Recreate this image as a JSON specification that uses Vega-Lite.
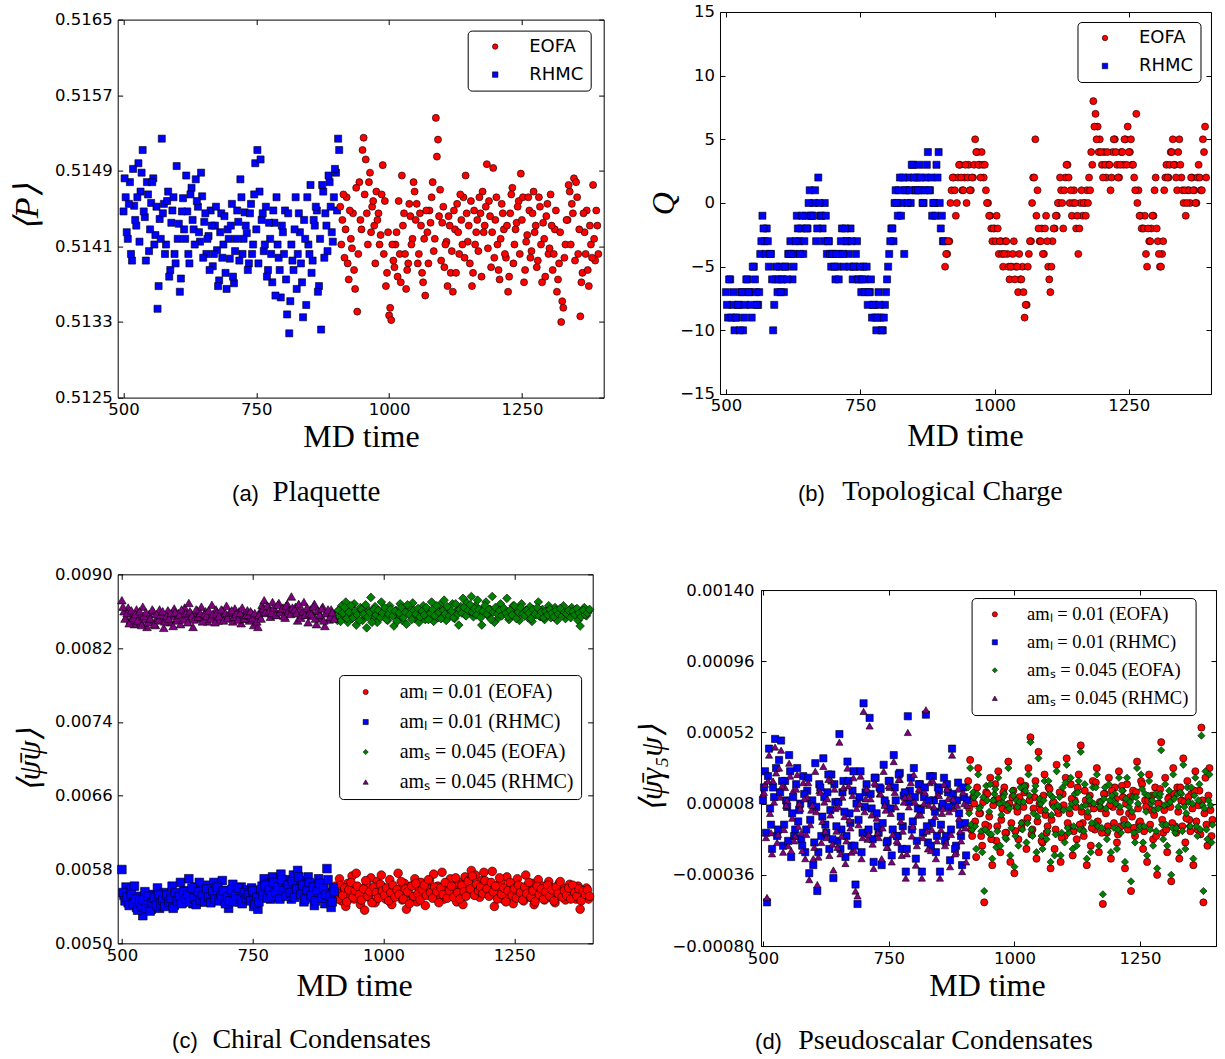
{
"$schema":"https://vega.github.io/schema/vega-lite/v6.json",
"background":"white",
"padding":{"left":6.7,"top":0.7,"right":2,"bottom":-16},
"config":{
 "view":{"stroke":"#000000","strokeWidth":1},
 "axis":{"grid":false,"domain":false,"labelFont":"DejaVu Sans","labelFontSize":16.5,"labelColor":"#000000","tickColor":"#000000","tickWidth":1,"labelFlush":false,"labelOverlap":false,"titleColor":"#000000","titleFontWeight":"normal"},
 "legend":{"orient":"none","direction":"vertical","labelColor":"#000000","symbolStrokeColor":"#000000","symbolStrokeWidth":0.6,"strokeColor":"#000000","fillColor":"#ffffff","cornerRadius":4,"labelLimit":400,"padding":7}
},
"spacing":41.6,
"resolve":{"scale":{"color":"independent","shape":"independent"},"legend":{"color":"independent","shape":"independent"}},
"vconcat":[
{"hconcat":[
{
"width":486,"height":378,
"data":{"values":[
{"s":"RHMC","t":[500,504,508,512,516,520,524,528,532,536,540,544,548,552,556,560,564,568,572,576,580,584,588,592,596,600,604,608,612,616,620,624,628,632,636,640,644,648,652,656,660,664,668,672,676,680,684,688,692,696,700,704,708,712,716,720,724,728,732,736,740,744,748,752,756,760,764,768,772,776,780,784,788,792,796,800,804,808,812,816,820,824,828,832,836,840,844,848,852,856,860,864,868,872,876,880,884,888,892,896,900,904],
"v":[0.51447,0.51462,0.51418,0.51478,0.51395,0.51453,0.51432,0.51498,0.51468,0.51512,0.51441,0.51478,0.51405,0.51456,0.51482,0.51422,0.51344,0.51439,0.51524,0.51455,0.51412,0.51468,0.51385,0.51448,0.51402,0.51495,0.51434,0.51376,0.51461,0.51418,0.51447,0.51392,0.51472,0.51428,0.51481,0.51452,0.51415,0.51463,0.51436,0.51402,0.51421,0.51448,0.51389,0.51432,0.51406,0.51374,0.51445,0.51412,0.51382,0.51428,0.51397,0.51455,0.51371,0.51418,0.51436,0.51481,0.51402,0.51446,0.51424,0.51392,0.51455,0.51412,0.51498,0.51512,0.51468,0.51438,0.51405,0.51452,0.51385,0.51418,0.51372,0.51435,0.51462,0.51398,0.51356,0.51425,0.51448,0.51338,0.51318,0.51412,0.51385,0.51462,0.51402,0.51425,0.51372,0.51438,0.51348,0.51412,0.51475,0.51395,0.51432,0.51448,0.51368,0.51322,0.51468,0.51445,0.51405,0.51478,0.51425,0.51462,0.51488,0.51524]},
{"s":"RHMC","t":[502,506,510,514,518,522,526,530,534,538,542,546,550,554,558,562,566,570,574,578,582,586,590,594,598,602,606,610,614,618,622,626,630,634,638,642,646,650,654,658,662,666,670,674,678,682,686,690,694,698,702,706,710,714,718,722,726,730,734,738,742,746,750,754,758,762,766,770,774,778,782,786,790,794,798,802,806,810,814,818,822,826,830,834,838,842,846,850,854,858,862,866,870,874,878,882,886,890,894,898,902,906],
"v":[0.51482,0.51425,0.51455,0.51402,0.51492,0.51438,0.51462,0.51415,0.51488,0.51447,0.51395,0.51465,0.51428,0.51478,0.51412,0.51452,0.51368,0.51418,0.51445,0.51402,0.51458,0.51378,0.51435,0.51462,0.51392,0.51418,0.51362,0.51447,0.51428,0.51485,0.51402,0.51465,0.51438,0.51412,0.51458,0.51425,0.51488,0.51398,0.51445,0.51418,0.51385,0.51432,0.51402,0.51452,0.51368,0.51425,0.51398,0.51442,0.51365,0.51418,0.51432,0.51378,0.51405,0.51448,0.51395,0.51462,0.51418,0.51432,0.51385,0.51445,0.51402,0.51465,0.51428,0.51392,0.51502,0.51445,0.51412,0.51378,0.51435,0.51402,0.51448,0.51358,0.51412,0.51385,0.51432,0.51402,0.51375,0.51445,0.51352,0.51395,0.51428,0.51365,0.51445,0.51392,0.51335,0.51418,0.51462,0.51402,0.51382,0.51438,0.51452,0.51362,0.51418,0.51475,0.51398,0.51432,0.51485,0.51452,0.51415,0.51492,0.51448,0.51512]},
{"s":"EOFA","t":[908,912,916,920,924,928,932,936,940,944,948,952,956,960,964,968,972,976,980,984,988,992,996,1000,1004,1008,1012,1016,1020,1024,1028,1032,1036,1040,1044,1048,1052,1056,1060,1064,1068,1072,1076,1080,1084,1088,1092,1096,1100,1104,1108,1112,1116,1120,1124,1128,1132,1136,1140,1144,1148,1152,1156,1160,1164,1168,1172,1176,1180,1184,1188,1192,1196,1200,1204,1208,1212,1216,1220,1224,1228,1232,1236,1240,1244,1248,1252,1256,1260,1264,1268,1272,1276,1280,1284,1288,1292,1296,1300,1304,1308,1312,1316,1320,1324,1328,1332,1336,1340,1344,1348,1352,1356,1360,1364,1368,1372,1376,1380,1384,1388,1392],
"v":[0.51452,0.51438,0.51398,0.51462,0.51375,0.51418,0.51445,0.51365,0.51341,0.51478,0.51428,0.51525,0.51502,0.51412,0.51488,0.51452,0.51432,0.51468,0.51445,0.51422,0.51496,0.51458,0.51382,0.51337,0.51332,0.51395,0.51412,0.51378,0.51402,0.51485,0.51445,0.51365,0.51392,0.51442,0.51418,0.51468,0.51455,0.51402,0.51432,0.51372,0.51358,0.51425,0.51448,0.51462,0.51405,0.51546,0.51523,0.5147,0.51435,0.51388,0.51415,0.51442,0.51382,0.51362,0.51428,0.51455,0.51402,0.51438,0.51462,0.51485,0.51415,0.51392,0.51368,0.51448,0.51425,0.51405,0.51445,0.51468,0.51432,0.51497,0.51458,0.51388,0.51493,0.51438,0.51412,0.51375,0.51455,0.51428,0.51398,0.51362,0.51445,0.51472,0.51412,0.51435,0.51458,0.51487,0.51462,0.51385,0.51422,0.51448,0.51405,0.51468,0.51432,0.51395,0.51452,0.51372,0.51418,0.51442,0.51402,0.51465,0.51385,0.51428,0.51362,0.51392,0.5133,0.51345,0.51412,0.51438,0.51468,0.51455,0.51482,0.51478,0.51402,0.51336,0.51382,0.51425,0.51448,0.51368,0.51412,0.51475,0.51395,0.51432]},
{"s":"EOFA","t":[910,914,918,922,926,930,934,938,942,946,950,954,958,962,966,970,974,978,982,986,990,994,998,1002,1006,1010,1014,1018,1022,1026,1030,1034,1038,1042,1046,1050,1054,1058,1062,1066,1070,1074,1078,1082,1086,1090,1094,1098,1102,1106,1110,1114,1118,1122,1126,1130,1134,1138,1142,1146,1150,1154,1158,1162,1166,1170,1174,1178,1182,1186,1190,1194,1198,1202,1206,1210,1214,1218,1222,1226,1230,1234,1238,1242,1246,1250,1254,1258,1262,1266,1270,1274,1278,1282,1286,1290,1294,1298,1302,1306,1310,1314,1318,1322,1326,1330,1334,1338,1342,1346,1350,1354,1358,1362,1366,1370,1374,1378,1382,1386,1390,1394],
"v":[0.51412,0.51465,0.51428,0.51392,0.51448,0.51408,0.51385,0.51472,0.51402,0.51438,0.51512,0.51465,0.51445,0.51478,0.51425,0.51458,0.51392,0.51438,0.51412,0.51465,0.51402,0.51368,0.51425,0.51345,0.51412,0.51388,0.51425,0.51458,0.51372,0.51432,0.51402,0.51385,0.51455,0.51412,0.51478,0.51438,0.51392,0.51445,0.51382,0.51418,0.51448,0.51392,0.51435,0.51478,0.51418,0.51505,0.51442,0.51395,0.51452,0.51412,0.51368,0.51432,0.51405,0.51448,0.51382,0.51425,0.51465,0.51412,0.51398,0.51445,0.51432,0.51458,0.51382,0.51412,0.51438,0.51462,0.51378,0.51425,0.51452,0.51408,0.51442,0.51425,0.51398,0.51462,0.51385,0.51418,0.51445,0.51402,0.51432,0.51378,0.51465,0.51392,0.51428,0.51452,0.51402,0.51438,0.51372,0.51415,0.51462,0.51398,0.51445,0.51425,0.51388,0.51462,0.51412,0.51435,0.51378,0.51455,0.51408,0.51432,0.51402,0.51448,0.51375,0.51425,0.51352,0.51398,0.51438,0.51475,0.51412,0.51445,0.51395,0.51462,0.51428,0.51372,0.51445,0.51402,0.51385,0.51432,0.51398,0.51418,0.51448,0.51402]}
]},
"transform":[{"flatten":["t","v"]}],
"layer":[
{"mark":{"type":"point","filled":true,"size":50,"stroke":"#000000","strokeWidth":0.6,"opacity":1},
 "encoding":{
  "x":{"field":"t","type":"quantitative","scale":{"domain":[489,1404],"nice":false,"zero":false},"axis":{"orient":"bottom","values":[500,750,1000,1250],"format":"d","ticks":false,"labelPadding":4,"title":"MD time","titleFont":"Liberation Serif","titleFontSize":32,"titleX":243.3,"titleY":49,"titleAlign":"center","titleBaseline":"alphabetic","titleAngle":0}},
  "y":{"field":"v","type":"quantitative","scale":{"domain":[0.5125,0.5165],"nice":false,"zero":false},"axis":{"orient":"left","values":[0.5125,0.5133,0.5141,0.5149,0.5157,0.5165],"format":".4f","ticks":false,"labelPadding":5.5,"minExtent":110,"maxExtent":110,"title":"\u27e8P\u27e9","titleFont":"Liberation Serif","titleFontSize":34,"titleFontStyle":"italic","titleX":-90.7,"titleY":187.7,"titleAngle":270,"titleAlign":"center","titleBaseline":"middle"}},
  "color":{"field":"s","type":"nominal","scale":{"domain":["EOFA","RHMC"],"range":["#ff0000","#0000ff"]},"legend":{"title":null,"legendX":350,"legendY":11,"labelFont":"DejaVu Sans","labelFontSize":18,"symbolSize":30,"symbolOffset":11.5,"labelOffset":25,"rowPadding":10}},
  "shape":{"field":"s","type":"nominal","scale":{"domain":["EOFA","RHMC"],"range":["circle","square"]}}
 }},
{"transform":[{"filter":"datum.t == 500"}],"mark":{"type":"point","opacity":0},
 "encoding":{
  "x":{"field":"t","type":"quantitative","scale":{"domain":[489,1404],"nice":false,"zero":false},"axis":{"orient":"top","values":[500,750,1000,1250],"labels":false,"tickSize":-5,"title":null,"minExtent":10,"maxExtent":10}},
  "y":{"field":"v","type":"quantitative","scale":{"domain":[0.5125,0.5165],"nice":false,"zero":false},"axis":{"orient":"right","values":[0.5125,0.5133,0.5141,0.5149,0.5157,0.5165],"labels":false,"tickSize":-5,"minExtent":0,"maxExtent":0,"title":"(a)","titleFont":"Liberation Sans","titleFontSize":22,"titleAngle":0,"titleX":-358.7,"titleY":480.7,"titleAlign":"center","titleBaseline":"alphabetic"}}
 }},
{"transform":[{"filter":"datum.t == 500"}],"mark":{"type":"point","opacity":0},
 "encoding":{
  "x":{"field":"t","type":"quantitative","scale":{"domain":[489,1404],"nice":false,"zero":false},"axis":{"orient":"bottom","values":[500,750,1000,1250],"labels":false,"tickSize":-5,"minExtent":115.7,"maxExtent":115.7,"title":"Plaquette","titleFont":"Liberation Serif","titleFontSize":29,"titleAngle":0,"titleX":208.3,"titleY":102.7,"titleAlign":"center","titleBaseline":"alphabetic"}},
  "y":{"field":"v","type":"quantitative","scale":{"domain":[0.5125,0.5165],"nice":false,"zero":false},"axis":{"orient":"left","values":[0.5125,0.5133,0.5141,0.5149,0.5157,0.5165],"labels":false,"tickSize":-5,"title":null,"minExtent":0,"maxExtent":0}}
 }}
],
"resolve":{"axis":{"x":"independent","y":"independent"}}
},
{
"width":491,"height":382,
"data":{"values":[
{"s":"RHMC","t":[500,504,508,512,516,520,524,528,532,536,540,544,548,552,556,560,564,568,572,576,580,584,588,592,596,600,604,608,612,616,620,624,628,632,636,640,644,648,652,656,660,664,668,672,676,680,684,688,692,696,700,704,708,712,716,720,724,728,732,736,740,744,748,752,756,760,764,768,772,776,780,784,788,792,796,800,804,808,812,816,820,824,828,832,836,840,844,848,852,856,860,864,868,872,876,880,884,888,892,896,900,904],
"v":[-7,-9,-6,-8,-10,-9,-8,-7,-10,-8,-6,-7,-9,-5,-7,-8,-4,-1,-3,-2,-5,-4,-10,-6,-7,-5,-6,-7,-5,-4,-3,-6,-4,-1,-3,-2,-4,-1,-2,1,-1,0,-3,2,-1,-2,0,-4,-3,-5,-4,-6,-5,-4,-2,-5,-3,-4,-2,-6,-5,-3,-6,-7,-5,-6,-8,-7,-9,-8,-10,-7,-9,-10,-8,-6,-4,-2,-3,1,-1,2,0,-4,1,2,0,3,1,2,3,1,0,2,4,1,-1,0,3,4,-2,-3]},
{"s":"RHMC","t":[502,506,510,514,518,522,526,530,534,538,542,546,550,554,558,562,566,570,574,578,582,586,590,594,598,602,606,610,614,618,622,626,630,634,638,642,646,650,654,658,662,666,670,674,678,682,686,690,694,698,702,706,710,714,718,722,726,730,734,738,742,746,750,754,758,762,766,770,774,778,782,786,790,794,798,802,806,810,814,818,822,826,830,834,838,842,846,850,854,858,862,866,870,874,878,882,886,890,894,898,902,906],
"v":[-8,-6,-9,-7,-9,-8,-10,-7,-9,-6,-7,-8,-5,-6,-8,-7,-3,-2,-4,-3,-4,-6,-8,-5,-6,-7,-6,-5,-6,-4,-4,-5,-3,-2,-4,-1,-3,-2,0,-1,-1,1,-2,0,-1,-3,-1,-3,-4,-4,-5,-4,-6,-3,-4,-2,-3,-5,-3,-5,-4,-6,-5,-6,-7,-5,-7,-6,-8,-9,-9,-8,-10,-9,-7,-5,-3,-2,0,0,1,-1,2,1,0,1,3,2,1,1,2,0,1,3,1,2,0,-1,2,0,-1,-3]},
{"s":"EOFA","t":[908,912,916,920,924,928,932,936,940,944,948,952,956,960,964,968,972,976,980,984,988,992,996,1000,1004,1008,1012,1016,1020,1024,1028,1032,1036,1040,1044,1048,1052,1056,1060,1064,1068,1072,1076,1080,1084,1088,1092,1096,1100,1104,1108,1112,1116,1120,1124,1128,1132,1136,1140,1144,1148,1152,1156,1160,1164,1168,1172,1176,1180,1184,1188,1192,1196,1200,1204,1208,1212,1216,1220,1224,1228,1232,1236,1240,1244,1248,1252,1256,1260,1264,1268,1272,1276,1280,1284,1288,1292,1296,1300,1304,1308,1312,1316,1320,1324,1328,1332,1336,1340,1344,1348,1352,1356,1360,1364,1368,1372,1376,1380,1384,1388,1392],
"v":[-5,-4,-3,1,2,-1,2,3,1,2,0,3,1,2,5,4,3,4,2,1,0,-1,-3,-2,-1,-4,-3,-5,-3,-4,-6,-5,-3,-5,-7,-6,-5,-9,-8,-4,-3,2,5,1,-3,-2,-4,-1,-5,-7,-3,-2,-1,0,1,-2,2,3,0,-1,1,-2,-4,0,-1,0,1,2,4,8,7,6,5,3,4,2,3,1,4,5,3,2,4,3,5,6,4,3,2,7,1,-1,-2,-1,-5,-3,-2,-1,2,-3,-5,-4,1,3,2,4,5,3,1,5,2,0,-1,1,0,2,1,0,3,1,5,6]},
{"s":"EOFA","t":[910,914,918,922,926,930,934,938,942,946,950,954,958,962,966,970,974,978,982,986,990,994,998,1002,1006,1010,1014,1018,1022,1026,1030,1034,1038,1042,1046,1050,1054,1058,1062,1066,1070,1074,1078,1082,1086,1090,1094,1098,1102,1106,1110,1114,1118,1122,1126,1130,1134,1138,1142,1146,1150,1154,1158,1162,1166,1170,1174,1178,1182,1186,1190,1194,1198,1202,1206,1210,1214,1218,1222,1226,1230,1234,1238,1242,1246,1250,1254,1258,1262,1266,1270,1274,1278,1282,1286,1290,1294,1298,1302,1306,1310,1314,1318,1322,1326,1330,1334,1338,1342,1346,1350,1354,1358,1362,1366,1370,1374,1378,1382,1386,1390,1394],
"v":[-4,-3,0,2,1,0,3,2,1,3,2,1,2,3,4,3,2,3,3,0,-1,-2,-2,-3,-2,-3,-4,-4,-3,-5,-5,-4,-6,-5,-4,-6,-7,-8,-5,-3,0,2,-1,-2,-3,-4,-2,-3,-6,-5,-2,-1,0,2,0,1,3,2,1,0,0,-1,-2,1,0,-1,0,1,3,6,5,4,4,2,3,4,3,2,5,4,2,3,4,5,3,4,5,3,1,0,-1,-2,-2,-4,-2,-3,-1,1,-2,-4,-5,-3,2,2,3,4,3,2,4,3,1,1,0,1,2,1,0,2,2,1,4,2]}
]},
"transform":[{"flatten":["t","v"]}],
"layer":[
{"mark":{"type":"point","filled":true,"size":50,"stroke":"#000000","strokeWidth":0.6,"opacity":1},
 "encoding":{
  "x":{"field":"t","type":"quantitative","scale":{"domain":[489,1403],"nice":false,"zero":false},"axis":{"orient":"bottom","values":[500,750,1000,1250],"format":"d","ticks":false,"labelPadding":4,"title":"MD time","titleFont":"Liberation Serif","titleFontSize":32,"titleX":245,"titleY":52,"titleAlign":"center","titleBaseline":"alphabetic","titleAngle":0}},
  "y":{"field":"v","type":"quantitative","scale":{"domain":[-15,15],"nice":false,"zero":false},"axis":{"orient":"left","values":[-15,-10,-5,0,5,10,15],"format":"d","ticks":false,"labelPadding":5.5,"minExtent":80,"maxExtent":80,"title":"Q","titleFont":"Liberation Serif","titleFontSize":32,"titleFontStyle":"italic","titleX":-56,"titleY":191.3,"titleAngle":270,"titleAlign":"center","titleBaseline":"middle"}},
  "color":{"field":"s","type":"nominal","scale":{"domain":["EOFA","RHMC"],"range":["#ff0000","#0000ff"]},"legend":{"title":null,"legendX":357.5,"legendY":10,"labelFont":"DejaVu Sans","labelFontSize":18,"symbolSize":30,"symbolOffset":11.5,"labelOffset":25,"rowPadding":10}},
  "shape":{"field":"s","type":"nominal","scale":{"domain":["EOFA","RHMC"],"range":["circle","square"]}}
 }},
{"transform":[{"filter":"datum.t == 500"}],"mark":{"type":"point","opacity":0},
 "encoding":{
  "x":{"field":"t","type":"quantitative","scale":{"domain":[489,1403],"nice":false,"zero":false},"axis":{"orient":"top","values":[500,750,1000,1250],"labels":false,"tickSize":-5,"title":null,"minExtent":10,"maxExtent":10}},
  "y":{"field":"v","type":"quantitative","scale":{"domain":[-15,15],"nice":false,"zero":false},"axis":{"orient":"right","values":[-15,-10,-5,0,5,10,15],"labels":false,"tickSize":-5,"minExtent":0,"maxExtent":0,"title":"(b)","titleFont":"Liberation Sans","titleFontSize":22,"titleAngle":0,"titleX":-400,"titleY":488.3,"titleAlign":"center","titleBaseline":"alphabetic"}}
 }},
{"transform":[{"filter":"datum.t == 500"}],"mark":{"type":"point","opacity":0},
 "encoding":{
  "x":{"field":"t","type":"quantitative","scale":{"domain":[489,1403],"nice":false,"zero":false},"axis":{"orient":"bottom","values":[500,750,1000,1250],"labels":false,"tickSize":-5,"minExtent":126.9,"maxExtent":126.9,"title":"Topological Charge","titleFont":"Liberation Serif","titleFontSize":28,"titleAngle":0,"titleX":232,"titleY":106,"titleAlign":"center","titleBaseline":"alphabetic"}},
  "y":{"field":"v","type":"quantitative","scale":{"domain":[-15,15],"nice":false,"zero":false},"axis":{"orient":"left","values":[-15,-10,-5,0,5,10,15],"labels":false,"tickSize":-5,"title":null,"minExtent":0,"maxExtent":0}}
 }}
],
"resolve":{"axis":{"x":"independent","y":"independent"}}
}
],"spacing":34.3,"align":"each","center":true,
"resolve":{"scale":{"color":"independent","shape":"independent"},"legend":{"color":"independent","shape":"independent"}}},
{"hconcat":[
{
"width":475,"height":369,
"data":{"values":[
{"s":"am\u2097 = 0.01 (EOFA)","t":[908,912,916,920,924,928,932,936,940,944,948,952,956,960,964,968,972,976,980,984,988,992,996,1000,1004,1008,1012,1016,1020,1024,1028,1032,1036,1040,1044,1048,1052,1056,1060,1064,1068,1072,1076,1080,1084,1088,1092,1096,1100,1104,1108,1112,1116,1120,1124,1128,1132,1136,1140,1144,1148,1152,1156,1160,1164,1168,1172,1176,1180,1184,1188,1192,1196,1200,1204,1208,1212,1216,1220,1224,1228,1232,1236,1240,1244,1248,1252,1256,1260,1264,1268,1272,1276,1280,1284,1288,1292,1296,1300,1304,1308,1312,1316,1320,1324,1328,1332,1336,1340,1344,1348,1352,1356,1360,1364,1368,1372,1376,1380,1384,1388,1392],
"v":[0.00562,0.00554,0.0057,0.00546,0.00559,0.0054,0.00565,0.00552,0.00573,0.00548,0.00576,0.0056,0.00542,0.00555,0.00536,0.00564,0.0055,0.00571,0.00558,0.00544,0.00567,0.00553,0.00574,0.00561,0.00548,0.00556,0.00569,0.00542,0.0056,0.00551,0.00576,0.00558,0.00547,0.00565,0.00537,0.00554,0.00562,0.0055,0.0057,0.00545,0.00559,0.00566,0.00552,0.00541,0.0056,0.00568,0.00554,0.00575,0.0055,0.00562,0.00556,0.00577,0.00548,0.00564,0.00559,0.0057,0.00553,0.00561,0.00545,0.00566,0.00558,0.00542,0.00572,0.0056,0.00569,0.00579,0.00555,0.00574,0.00563,0.0055,0.00568,0.00577,0.00559,0.00565,0.00553,0.00578,0.0054,0.0056,0.00552,0.00566,0.00548,0.00558,0.00572,0.00551,0.00564,0.00543,0.00559,0.0057,0.00552,0.00561,0.00546,0.00574,0.00557,0.0055,0.00565,0.00542,0.00558,0.00569,0.00551,0.00562,0.00547,0.00556,0.00567,0.0055,0.0056,0.00544,0.00558,0.00565,0.00551,0.0056,0.00547,0.00556,0.00564,0.00552,0.00558,0.00548,0.00562,0.00537,0.00556,0.0055,0.0056,0.00548]},
{"s":"am\u2097 = 0.01 (EOFA)","t":[910,914,918,922,926,930,934,938,942,946,950,954,958,962,966,970,974,978,982,986,990,994,998,1002,1006,1010,1014,1018,1022,1026,1030,1034,1038,1042,1046,1050,1054,1058,1062,1066,1070,1074,1078,1082,1086,1090,1094,1098,1102,1106,1110,1114,1118,1122,1126,1130,1134,1138,1142,1146,1150,1154,1158,1162,1166,1170,1174,1178,1182,1186,1190,1194,1198,1202,1206,1210,1214,1218,1222,1226,1230,1234,1238,1242,1246,1250,1254,1258,1262,1266,1270,1274,1278,1282,1286,1290,1294,1298,1302,1306,1310,1314,1318,1322,1326,1330,1334,1338,1342,1346,1350,1354,1358,1362,1366,1370,1374,1378,1382,1386,1390,1394],
"v":[0.00556,0.00548,0.00563,0.00552,0.0056,0.00545,0.00558,0.00566,0.0055,0.00557,0.00562,0.00553,0.00547,0.00559,0.00568,0.00551,0.00556,0.00544,0.00561,0.00555,0.00549,0.00564,0.00557,0.00552,0.0056,0.00546,0.00555,0.00563,0.0055,0.00558,0.00553,0.00567,0.00548,0.00559,0.00556,0.00543,0.00562,0.00551,0.00565,0.00554,0.00547,0.00558,0.00563,0.00552,0.00569,0.00555,0.00549,0.00561,0.00556,0.00544,0.0056,0.00553,0.00566,0.00549,0.00557,0.00562,0.0055,0.00571,0.00555,0.00548,0.00563,0.00556,0.00551,0.00567,0.00559,0.00573,0.00552,0.00564,0.00557,0.00561,0.00554,0.00568,0.00559,0.00551,0.00566,0.00556,0.00562,0.00548,0.00571,0.00553,0.0056,0.00545,0.00557,0.00566,0.00552,0.00559,0.00549,0.00563,0.00555,0.00547,0.00561,0.00554,0.00566,0.0055,0.00557,0.00545,0.00562,0.00553,0.00559,0.00548,0.00556,0.00563,0.00551,0.00558,0.00546,0.00561,0.00554,0.00567,0.0055,0.00557,0.00552,0.0056,0.00548,0.00563,0.00555,0.00551,0.00559,0.00546,0.00557,0.00553,0.00558,0.00551]},
{"s":"am\u2097 = 0.01 (RHMC)","t":[500,504,508,512,516,520,524,528,532,536,540,544,548,552,556,560,564,568,572,576,580,584,588,592,596,600,604,608,612,616,620,624,628,632,636,640,644,648,652,656,660,664,668,672,676,680,684,688,692,696,700,704,708,712,716,720,724,728,732,736,740,744,748,752,756,760,764,768,772,776,780,784,788,792,796,800,804,808,812,816,820,824,828,832,836,840,844,848,852,856,860,864,868,872,876,880,884,888,892,896,900,904],
"v":[0.0058,0.00552,0.00561,0.00544,0.00558,0.00548,0.00562,0.00539,0.00551,0.00545,0.0053,0.00556,0.00542,0.00548,0.00537,0.00553,0.00545,0.0056,0.00538,0.00549,0.00555,0.00542,0.00551,0.00546,0.00562,0.00541,0.00553,0.00548,0.00566,0.00544,0.00557,0.00549,0.0057,0.00552,0.00543,0.00561,0.0055,0.00566,0.00545,0.00558,0.00552,0.00563,0.00547,0.00555,0.00566,0.00549,0.00558,0.00552,0.00568,0.00546,0.00557,0.00538,0.00552,0.00564,0.0055,0.00556,0.00545,0.00561,0.00552,0.00547,0.00558,0.00551,0.0056,0.0054,0.00548,0.00537,0.00553,0.00562,0.0057,0.00556,0.00565,0.00548,0.00572,0.00559,0.00566,0.0055,0.00575,0.00561,0.00554,0.00569,0.0056,0.00548,0.00574,0.00562,0.00579,0.00555,0.00568,0.00545,0.0056,0.00572,0.0055,0.00564,0.00541,0.00558,0.0057,0.00552,0.00561,0.00543,0.00581,0.00555,0.00539,0.0056]},
{"s":"am\u2097 = 0.01 (RHMC)","t":[502,506,510,514,518,522,526,530,534,538,542,546,550,554,558,562,566,570,574,578,582,586,590,594,598,602,606,610,614,618,622,626,630,634,638,642,646,650,654,658,662,666,670,674,678,682,686,690,694,698,702,706,710,714,718,722,726,730,734,738,742,746,750,754,758,762,766,770,774,778,782,786,790,794,798,802,806,810,814,818,822,826,830,834,838,842,846,850,854,858,862,866,870,874,878,882,886,890,894,898,902,906],
"v":[0.00555,0.00546,0.0055,0.00541,0.00553,0.00543,0.00548,0.00536,0.00545,0.0054,0.00547,0.00538,0.00551,0.00535,0.00544,0.00549,0.00541,0.00553,0.00543,0.00547,0.0054,0.00552,0.00545,0.00549,0.00538,0.00555,0.00546,0.00551,0.00543,0.00556,0.00548,0.00553,0.00545,0.0056,0.00549,0.00542,0.00556,0.00547,0.00552,0.00545,0.00559,0.0055,0.00544,0.00556,0.00548,0.00561,0.00546,0.00552,0.00557,0.00543,0.0055,0.00546,0.00558,0.00545,0.00552,0.0056,0.00548,0.00543,0.00555,0.00549,0.00553,0.00546,0.00557,0.00543,0.0055,0.00545,0.00558,0.00552,0.00563,0.00549,0.00558,0.00552,0.00566,0.00555,0.00561,0.00548,0.00569,0.00557,0.00551,0.00563,0.00555,0.00567,0.0055,0.00559,0.00572,0.00553,0.00563,0.00548,0.00558,0.00566,0.00552,0.00561,0.00546,0.00557,0.00565,0.00549,0.0056,0.00553,0.00569,0.00551,0.00545,0.00556]},
{"s":"am\u209b = 0.045 (EOFA)","t":[908,912,916,920,924,928,932,936,940,944,948,952,956,960,964,968,972,976,980,984,988,992,996,1000,1004,1008,1012,1016,1020,1024,1028,1032,1036,1040,1044,1048,1052,1056,1060,1064,1068,1072,1076,1080,1084,1088,1092,1096,1100,1104,1108,1112,1116,1120,1124,1128,1132,1136,1140,1144,1148,1152,1156,1160,1164,1168,1172,1176,1180,1184,1188,1192,1196,1200,1204,1208,1212,1216,1220,1224,1228,1232,1236,1240,1244,1248,1252,1256,1260,1264,1268,1272,1276,1280,1284,1288,1292,1296,1300,1304,1308,1312,1316,1320,1324,1328,1332,1336,1340,1344,1348,1352,1356,1360,1364,1368,1372,1376,1380,1384,1388,1392],
"v":[0.00857,0.0085,0.00862,0.00866,0.00854,0.0087,0.00848,0.0086,0.00852,0.00868,0.00845,0.00858,0.00864,0.0085,0.00856,0.00842,0.00861,0.00875,0.00853,0.00865,0.00848,0.00859,0.0087,0.00855,0.00862,0.0085,0.00866,0.00857,0.00844,0.00861,0.00853,0.00868,0.0085,0.0086,0.00846,0.00864,0.00857,0.00869,0.00852,0.00861,0.00848,0.00858,0.00866,0.00851,0.00862,0.00855,0.0087,0.00849,0.0086,0.00853,0.00867,0.00858,0.00872,0.0085,0.00862,0.00856,0.00868,0.00852,0.00861,0.00845,0.00865,0.00874,0.00856,0.00869,0.0086,0.00876,0.00854,0.00866,0.00872,0.00858,0.00845,0.00864,0.0087,0.00855,0.00862,0.00876,0.00848,0.0086,0.00853,0.00868,0.00857,0.00862,0.00874,0.00851,0.0086,0.00866,0.00855,0.00862,0.0085,0.00868,0.00857,0.00861,0.00853,0.00865,0.00849,0.0086,0.00856,0.0087,0.00854,0.00862,0.00851,0.0086,0.00866,0.00853,0.00859,0.00864,0.0085,0.00861,0.00857,0.00866,0.00852,0.0086,0.00855,0.00864,0.00858,0.00862,0.0085,0.00844,0.00859,0.00864,0.00855,0.0086]},
{"s":"am\u209b = 0.045 (EOFA)","t":[910,914,918,922,926,930,934,938,942,946,950,954,958,962,966,970,974,978,982,986,990,994,998,1002,1006,1010,1014,1018,1022,1026,1030,1034,1038,1042,1046,1050,1054,1058,1062,1066,1070,1074,1078,1082,1086,1090,1094,1098,1102,1106,1110,1114,1118,1122,1126,1130,1134,1138,1142,1146,1150,1154,1158,1162,1166,1170,1174,1178,1182,1186,1190,1194,1198,1202,1206,1210,1214,1218,1222,1226,1230,1234,1238,1242,1246,1250,1254,1258,1262,1266,1270,1274,1278,1282,1286,1290,1294,1298,1302,1306,1310,1314,1318,1322,1326,1330,1334,1338,1342,1346,1350,1354,1358,1362,1366,1370,1374,1378,1382,1386,1390,1394],
"v":[0.00855,0.00861,0.00849,0.00858,0.00864,0.00852,0.00859,0.00866,0.00853,0.0086,0.00856,0.0085,0.00862,0.00857,0.00867,0.00854,0.00859,0.00848,0.00862,0.00856,0.00861,0.00853,0.00858,0.00864,0.00851,0.00857,0.00862,0.00855,0.0086,0.00849,0.00858,0.00864,0.00853,0.00859,0.00867,0.00856,0.00851,0.00861,0.00857,0.00863,0.00854,0.0086,0.00856,0.00864,0.00851,0.00858,0.00862,0.00855,0.00866,0.00859,0.00852,0.00861,0.00857,0.00865,0.00855,0.0086,0.00853,0.00868,0.00857,0.00862,0.00858,0.00864,0.00855,0.00861,0.00867,0.00859,0.00863,0.00856,0.00862,0.00853,0.0086,0.00866,0.00857,0.00862,0.00851,0.00859,0.00864,0.00857,0.00861,0.00855,0.00863,0.00858,0.00854,0.00861,0.00856,0.00866,0.00852,0.00859,0.00864,0.00857,0.00855,0.00861,0.00858,0.00852,0.00862,0.00857,0.00864,0.00855,0.00859,0.00853,0.0086,0.00856,0.00862,0.00858,0.00854,0.00861,0.00857,0.00863,0.00855,0.00859,0.00857,0.00861,0.00853,0.0086,0.00856,0.00863,0.00858,0.00854,0.00861,0.00856,0.00858,0.00862]},
{"s":"am\u209b = 0.045 (RHMC)","t":[500,504,508,512,516,520,524,528,532,536,540,544,548,552,556,560,564,568,572,576,580,584,588,592,596,600,604,608,612,616,620,624,628,632,636,640,644,648,652,656,660,664,668,672,676,680,684,688,692,696,700,704,708,712,716,720,724,728,732,736,740,744,748,752,756,760,764,768,772,776,780,784,788,792,796,800,804,808,812,816,820,824,828,832,836,840,844,848,852,856,860,864,868,872,876,880,884,888,892,896,900,904],
"v":[0.00872,0.0086,0.00853,0.00864,0.0085,0.00858,0.00846,0.00862,0.00855,0.00848,0.00865,0.00851,0.00843,0.00857,0.00849,0.0086,0.00845,0.00854,0.00862,0.0085,0.00842,0.00856,0.00861,0.00848,0.00855,0.00863,0.0085,0.00858,0.00846,0.00857,0.00864,0.00853,0.00869,0.00858,0.00843,0.00856,0.00861,0.00852,0.00865,0.00854,0.0086,0.00849,0.00858,0.00867,0.00855,0.00862,0.0085,0.00856,0.00861,0.00854,0.00866,0.00852,0.00858,0.00849,0.00863,0.00855,0.0086,0.00847,0.00856,0.00852,0.00861,0.0085,0.00858,0.00845,0.00854,0.00843,0.0086,0.00867,0.00872,0.00858,0.00865,0.00854,0.0087,0.00862,0.00856,0.00869,0.0086,0.00864,0.00853,0.00868,0.00861,0.00876,0.00858,0.00865,0.0085,0.00862,0.00856,0.0087,0.0086,0.00848,0.00862,0.00855,0.00868,0.00846,0.0086,0.00853,0.00865,0.00844,0.00858,0.00851,0.00862,0.00855]},
{"s":"am\u209b = 0.045 (RHMC)","t":[502,506,510,514,518,522,526,530,534,538,542,546,550,554,558,562,566,570,574,578,582,586,590,594,598,602,606,610,614,618,622,626,630,634,638,642,646,650,654,658,662,666,670,674,678,682,686,690,694,698,702,706,710,714,718,722,726,730,734,738,742,746,750,754,758,762,766,770,774,778,782,786,790,794,798,802,806,810,814,818,822,826,830,834,838,842,846,850,854,858,862,866,870,874,878,882,886,890,894,898,902,906],
"v":[0.00865,0.00852,0.00858,0.00847,0.00861,0.00853,0.00857,0.0085,0.0086,0.00845,0.00855,0.00859,0.00848,0.00852,0.00862,0.00846,0.00857,0.00851,0.00856,0.0086,0.00849,0.00855,0.00852,0.00858,0.00844,0.00859,0.00853,0.00856,0.00862,0.00851,0.00858,0.00848,0.0086,0.00855,0.00851,0.00862,0.00854,0.00858,0.00849,0.00857,0.00855,0.00861,0.00852,0.00857,0.00848,0.00859,0.00855,0.00862,0.0085,0.00858,0.00853,0.00859,0.00861,0.00854,0.00857,0.00851,0.00858,0.00864,0.00852,0.00856,0.00856,0.0086,0.00853,0.00858,0.00849,0.00856,0.00852,0.00863,0.00859,0.00866,0.00861,0.00858,0.00864,0.00856,0.00867,0.00859,0.00863,0.00855,0.00866,0.0086,0.00857,0.00864,0.00862,0.00858,0.00868,0.00853,0.0086,0.00856,0.00864,0.00858,0.00857,0.00865,0.00852,0.00861,0.00856,0.00863,0.0085,0.00858,0.00862,0.00854,0.00859,0.00852]}
]},
"transform":[{"flatten":["t","v"]}],
"layer":[
{"mark":{"type":"point","filled":true,"size":75,"stroke":"#000000","strokeWidth":0.6,"opacity":1},
 "encoding":{
  "x":{"field":"t","type":"quantitative","scale":{"domain":[492,1400],"nice":false,"zero":false},"axis":{"orient":"bottom","values":[500,750,1000,1250],"format":"d","ticks":false,"labelPadding":4,"title":"MD time","titleFont":"Liberation Serif","titleFontSize":32,"titleX":236.4,"titleY":51.7,"titleAlign":"center","titleBaseline":"alphabetic","titleAngle":0}},
  "y":{"field":"v","type":"quantitative","scale":{"domain":[0.005,0.009],"nice":false,"zero":false},"axis":{"orient":"left","values":[0.005,0.0058,0.0066,0.0074,0.0082,0.009],"format":".4f","ticks":false,"labelPadding":5.5,"minExtent":110,"maxExtent":110,"title":"\u27e8\u03c8\u0304\u03c8\u27e9","titleFont":"Liberation Serif","titleFontSize":32,"titleFontStyle":"italic","titleX":-88.6,"titleY":185.7,"titleAngle":270,"titleAlign":"center","titleBaseline":"middle"}},
  "color":{"field":"s","type":"nominal","scale":{"domain":["am\u2097 = 0.01 (EOFA)","am\u2097 = 0.01 (RHMC)","am\u209b = 0.045 (EOFA)","am\u209b = 0.045 (RHMC)"],"range":["#ff0000","#0000ff","#008000","#800080"]},"legend":{"title":null,"legendX":221.4,"legendY":100.7,"labelFont":"Liberation Serif","labelFontSize":20,"symbolSize":26,"symbolOffset":9.6,"labelOffset":24,"rowPadding":10}},
  "shape":{"field":"s","type":"nominal","scale":{"domain":["am\u2097 = 0.01 (EOFA)","am\u2097 = 0.01 (RHMC)","am\u209b = 0.045 (EOFA)","am\u209b = 0.045 (RHMC)"],"range":["circle","square","diamond","triangle-up"]}}
 }},
{"transform":[{"filter":"datum.t == 500"}],"mark":{"type":"point","opacity":0},
 "encoding":{
  "x":{"field":"t","type":"quantitative","scale":{"domain":[492,1400],"nice":false,"zero":false},"axis":{"orient":"top","values":[500,750,1000,1250],"labels":false,"tickSize":-5,"title":null,"minExtent":10,"maxExtent":10}},
  "y":{"field":"v","type":"quantitative","scale":{"domain":[0.005,0.009],"nice":false,"zero":false},"axis":{"orient":"right","values":[0.005,0.0058,0.0066,0.0074,0.0082,0.009],"labels":false,"tickSize":-5,"minExtent":0,"maxExtent":0,"title":"(c)","titleFont":"Liberation Sans","titleFontSize":22,"titleAngle":0,"titleX":-408.3,"titleY":472.7,"titleAlign":"center","titleBaseline":"alphabetic"}}
 }},
{"transform":[{"filter":"datum.t == 500"}],"mark":{"type":"point","opacity":0},
 "encoding":{
  "x":{"field":"t","type":"quantitative","scale":{"domain":[492,1400],"nice":false,"zero":false},"axis":{"orient":"bottom","values":[500,750,1000,1250],"labels":false,"tickSize":-5,"minExtent":130.4,"maxExtent":130.4,"title":"Chiral Condensates","titleFont":"Liberation Serif","titleFontSize":28,"titleAngle":0,"titleX":203.4,"titleY":103.7,"titleAlign":"center","titleBaseline":"alphabetic"}},
  "y":{"field":"v","type":"quantitative","scale":{"domain":[0.005,0.009],"nice":false,"zero":false},"axis":{"orient":"left","values":[0.005,0.0058,0.0066,0.0074,0.0082,0.009],"labels":false,"tickSize":-5,"title":null,"minExtent":0,"maxExtent":0}}
 }}
],
"resolve":{"axis":{"x":"independent","y":"independent"}}
},
{
"width":455,"height":356,
"data":{"values":[
{"s":"am\u2097 = 0.01 (EOFA)","t":[908,912,916,920,924,928,932,936,940,944,948,952,956,960,964,968,972,976,980,984,988,992,996,1000,1004,1008,1012,1016,1020,1024,1028,1032,1036,1040,1044,1048,1052,1056,1060,1064,1068,1072,1076,1080,1084,1088,1092,1096,1100,1104,1108,1112,1116,1120,1124,1128,1132,1136,1140,1144,1148,1152,1156,1160,1164,1168,1172,1176,1180,1184,1188,1192,1196,1200,1204,1208,1212,1216,1220,1224,1228,1232,1236,1240,1244,1248,1252,1256,1260,1264,1268,1272,1276,1280,1284,1288,1292,1296,1300,1304,1308,1312,1316,1320,1324,1328,1332,1336,1340,1344,1348,1352,1356,1360,1364,1368,1372,1376,1380,1384,1388,1392],
"v":[0.00022,0.00035,-0.00012,0.00008,-0.00025,0.0003,0.00002,-0.00018,-0.00053,0.00015,-0.00006,0.00024,-0.0003,0.0001,-0.00015,0.00028,-0.00022,0.00005,0.00018,-0.0001,0.00034,-0.00028,0.00012,-0.00035,0.00006,-0.00014,0.00022,-0.00004,0.00015,-0.0002,0.0003,0.00049,-0.00008,0.00012,-0.00026,0.0004,0.00004,-0.00016,0.00026,-0.0001,0.00018,-0.00032,0.00008,-0.0002,0.00032,0.00002,-0.00028,0.00014,-0.00012,0.00036,-0.00006,0.0002,-0.00024,0.0001,-0.00014,0.00026,0.00044,-0.00004,0.00016,-0.0003,0.00008,-0.00018,0.00022,-0.00008,0.0003,-0.00022,0.00005,-0.00054,0.00014,-0.0001,0.00024,-0.00026,0.00006,0.00018,-0.00016,0.00028,-0.00006,0.00012,-0.00032,0.0002,0.00002,-0.00046,0.00016,-0.00012,0.00034,-0.00004,0.00022,-0.0002,0.0001,-0.00028,0.00026,0.00004,-0.00014,0.00018,-0.00036,0.00008,0.00046,-0.0001,0.00024,-0.00022,0.00012,-0.0004,0.0003,-0.00006,0.00018,-0.00026,0.0001,0.00036,-0.00016,0.00022,-0.00002,0.00014,-0.0003,0.00028,-0.00008,0.00016,0.00055,-0.00053,0.00024,-0.00018,0.0003,-0.00012]},
{"s":"am\u2097 = 0.01 (EOFA)","t":[910,914,918,922,926,930,934,938,942,946,950,954,958,962,966,970,974,978,982,986,990,994,998,1002,1006,1010,1014,1018,1022,1026,1030,1034,1038,1042,1046,1050,1054,1058,1062,1066,1070,1074,1078,1082,1086,1090,1094,1098,1102,1106,1110,1114,1118,1122,1126,1130,1134,1138,1142,1146,1150,1154,1158,1162,1166,1170,1174,1178,1182,1186,1190,1194,1198,1202,1206,1210,1214,1218,1222,1226,1230,1234,1238,1242,1246,1250,1254,1258,1262,1266,1270,1274,1278,1282,1286,1290,1294,1298,1302,1306,1310,1314,1318,1322,1326,1330,1334,1338,1342,1346,1350,1354,1358,1362,1366,1370,1374,1378,1382,1386,1390,1394],
"v":[0.00005,-0.00008,0.00012,-0.00003,0.00018,0.00002,-0.00012,0.00009,-0.00005,0.00014,0,-0.00014,0.00007,0.0002,-0.00006,0.00011,-0.00002,0.00015,-0.0001,0.00004,0.00008,-0.00004,0.00016,-0.00009,0.00003,0.00012,-0.00007,0.00006,0.00019,-0.00001,0.0001,-0.00011,0.00005,0.00022,-0.00003,0.00008,-0.00015,0.00013,0.00001,-0.00006,0.00017,-0.00002,0.00009,-0.00008,0.00004,0.00015,-0.00013,0.00007,0.00024,-0.00004,0.00002,0.00011,-0.00009,0.00006,0.00018,-0.00005,0.00003,-0.00012,0.0001,0,0.00013,-0.00007,0.00005,0.00021,-0.00003,0.00009,-0.0001,0.00014,0.00002,-0.00006,0.00007,0.00016,-0.00004,0.00011,-0.00011,0.00003,0.00019,-0.00002,0.00008,-0.00008,0.00012,0,-0.00007,0.00015,0.00005,-0.00003,0.0002,-0.00009,0.00006,0.0001,-0.00005,0.00013,0.00001,-0.00012,0.00008,0.00017,-0.00002,0.00004,-0.00008,0.00011,0.00006,-0.00004,0.00014,-0.0001,0.00003,0.00018,-0.00006,0.00009,-0.00001,0.00012,-0.00009,0.00005,0.00016,-0.00003,0.00007,-0.00011,0.0001,0.00002,-0.00005,0.00013,0.00004,-0.00002]},
{"s":"am\u2097 = 0.01 (RHMC)","t":[500,504,508,512,516,520,524,528,532,536,540,544,548,552,556,560,564,568,572,576,580,584,588,592,596,600,604,608,612,616,620,624,628,632,636,640,644,648,652,656,660,664,668,672,676,680,684,688,692,696,700,704,708,712,716,720,724,728,732,736,740,744,748,752,756,760,764,768,772,776,780,784,788,792,796,800,804,808,812,816,820,824,828,832,836,840,844,848,852,856,860,864,868,872,876,880,884,888,892,896,900,904],
"v":[0.0001,0.00028,-0.00053,0.00042,-0.00005,0.00018,0.00048,-0.00012,0.00035,0.00047,-0.00018,0.00022,0.00006,0.00038,-0.00025,0.00012,-0.00008,0.0003,0.00004,-0.00014,0.00025,-0.00022,0.00016,-0.00035,0.00008,-0.0003,0.00033,-0.00046,0.0002,-0.00012,0.00036,-0.00005,0.00015,-0.0002,0.00026,-0.00038,0.00009,-0.00015,0.00051,-0.00008,0.00022,-0.00025,0.00034,0.00002,-0.00018,0.00028,-0.00042,-0.00054,0.00012,-0.00022,0.0007,0.00015,-0.0001,0.00061,0.00005,-0.00028,0.00024,-0.00006,0.00018,-0.0003,0.00032,0.00008,-0.00015,0.00022,-0.00024,0.00038,0.0001,-0.00012,0.00027,-0.0002,0.00013,-0.00034,0.00062,0.00016,-0.00008,0.0003,-0.00026,0.00005,0.0002,-0.00034,0.00012,0.00063,-0.00016,0.00025,-0.00004,0.0001,-0.00022,0.00018,-0.00034,0.00006,0.00024,-0.00012,0.00015,-0.00027,0.00042,0.00009,-0.00018,0.00021,-0.00005,-0.0003,0.00012,-0.00024]},
{"s":"am\u2097 = 0.01 (RHMC)","t":[502,506,510,514,518,522,526,530,534,538,542,546,550,554,558,562,566,570,574,578,582,586,590,594,598,602,606,610,614,618,622,626,630,634,638,642,646,650,654,658,662,666,670,674,678,682,686,690,694,698,702,706,710,714,718,722,726,730,734,738,742,746,750,754,758,762,766,770,774,778,782,786,790,794,798,802,806,810,814,818,822,826,830,834,838,842,846,850,854,858,862,866,870,874,878,882,886,890,894,898,902,906],
"v":[0.00018,-0.0001,0.00025,0.00005,-0.0002,0.00012,0.0003,-0.00008,0.00015,0.00022,-0.00005,0.0001,-0.00015,0.00028,0.00002,-0.00012,0.0002,-0.00003,0.00008,-0.00018,0.00014,-0.00008,0.00024,-0.00002,0.0001,-0.00016,0.00006,-0.00022,0.00018,0,0.00012,-0.0001,0.00026,0.00004,-0.00014,0.0002,-0.00006,0.00009,-0.0002,0.00015,0.00003,-0.00012,0.00022,-0.00004,0.00016,-0.00018,0.00008,-0.00002,0.00028,-0.0001,0.00006,0.0002,-0.00008,0.00014,-0.00014,0.00024,0.00002,-0.0001,0.00017,-0.00004,0.0001,-0.00016,0.00022,0.00005,-0.00008,0.00018,-0.00012,0.00026,0,-0.00006,0.00015,-0.0002,0.00009,0.00024,-0.00003,0.00012,-0.00015,0.0002,0.00004,-0.0001,0.00018,-0.00006,0.0001,-0.00018,0.00025,0.00003,-0.00012,0.00016,-0.00005,0.00008,-0.00015,0.0002,0.00006,-0.00008,0.00014,-0.0002,0.0001,0.00002,-0.00012,0.00018,-0.00004,0.0001]},
{"s":"am\u209b = 0.045 (EOFA)","t":[908,912,916,920,924,928,932,936,940,944,948,952,956,960,964,968,972,976,980,984,988,992,996,1000,1004,1008,1012,1016,1020,1024,1028,1032,1036,1040,1044,1048,1052,1056,1060,1064,1068,1072,1076,1080,1084,1088,1092,1096,1100,1104,1108,1112,1116,1120,1124,1128,1132,1136,1140,1144,1148,1152,1156,1160,1164,1168,1172,1176,1180,1184,1188,1192,1196,1200,1204,1208,1212,1216,1220,1224,1228,1232,1236,1240,1244,1248,1252,1256,1260,1264,1268,1272,1276,1280,1284,1288,1292,1296,1300,1304,1308,1312,1316,1320,1324,1328,1332,1336,1340,1344,1348,1352,1356,1360,1364,1368,1372,1376,1380,1384,1388,1392],
"v":[0.00018,0.0003,-0.00008,0.00012,-0.0002,0.00026,0.00006,-0.00022,-0.00046,0.00019,-0.0001,0.0002,-0.00026,0.00014,-0.00019,0.00024,-0.00018,0.00009,0.00014,-0.00014,0.0003,-0.00024,0.00016,-0.00031,0.0001,-0.00018,0.00018,-0.00008,0.00019,-0.00016,0.00026,0.00046,-0.00012,0.00016,-0.00022,0.00036,0.00008,-0.0002,0.00022,-0.00014,0.00022,-0.00028,0.00012,-0.00024,0.00028,0.00006,-0.00024,0.00018,-0.00016,0.00032,-0.0001,0.00024,-0.0002,0.00014,-0.00018,0.00022,0.0004,-0.00008,0.0002,-0.00026,0.00012,-0.00022,0.00018,-0.00004,0.00026,-0.00018,0.00009,-0.00048,0.00018,-0.00014,0.0002,-0.00022,0.0001,0.00014,-0.0002,0.00024,-0.0001,0.00016,-0.00028,0.00024,0.00006,-0.0004,0.00012,-0.00016,0.0003,-0.00008,0.00026,-0.00016,0.00014,-0.00024,0.00022,0.00008,-0.00018,0.00014,-0.00032,0.00012,0.00041,-0.00014,0.0002,-0.00018,0.00016,-0.00036,0.00026,-0.0001,0.00014,-0.00022,0.00014,0.00032,-0.0002,0.00018,-0.00006,0.00018,-0.00026,0.00024,-0.00012,0.0002,0.0005,-0.00046,0.00028,-0.00014,0.00026,-0.00016]},
{"s":"am\u209b = 0.045 (EOFA)","t":[910,914,918,922,926,930,934,938,942,946,950,954,958,962,966,970,974,978,982,986,990,994,998,1002,1006,1010,1014,1018,1022,1026,1030,1034,1038,1042,1046,1050,1054,1058,1062,1066,1070,1074,1078,1082,1086,1090,1094,1098,1102,1106,1110,1114,1118,1122,1126,1130,1134,1138,1142,1146,1150,1154,1158,1162,1166,1170,1174,1178,1182,1186,1190,1194,1198,1202,1206,1210,1214,1218,1222,1226,1230,1234,1238,1242,1246,1250,1254,1258,1262,1266,1270,1274,1278,1282,1286,1290,1294,1298,1302,1306,1310,1314,1318,1322,1326,1330,1334,1338,1342,1346,1350,1354,1358,1362,1366,1370,1374,1378,1382,1386,1390,1394],
"v":[0.00002,-0.00005,0.00015,-0.00006,0.00014,0.00005,-0.00009,0.00012,-0.00008,0.0001,0.00003,-0.00011,0.0001,0.00017,-0.00009,0.00008,0.00001,0.00012,-0.00013,0.00007,0.00005,-0.00007,0.00013,-0.00012,0.00006,0.00009,-0.00004,0.00009,0.00016,-0.00004,0.00013,-0.00008,0.00002,0.00019,0,0.00011,-0.00012,0.0001,0.00004,-0.00009,0.00014,0.00001,0.00006,-0.00011,0.00007,0.00012,-0.0001,0.00004,0.00021,-0.00007,0.00005,0.00008,-0.00006,0.00009,0.00015,-0.00008,0.00006,-0.00009,0.00007,0.00003,0.0001,-0.00004,0.00008,0.00018,-0.00006,0.00006,-0.00007,0.00011,0.00005,-0.00009,0.0001,0.00013,-0.00007,0.00008,-0.00008,0.00006,0.00016,-0.00005,0.00011,-0.00005,0.00009,0.00003,-0.0001,0.00012,0.00008,-0.00006,0.00017,-0.00006,0.00003,0.00013,-0.00008,0.0001,0.00004,-0.00009,0.00005,0.00014,-0.00005,0.00007,-0.00005,0.00008,0.00009,-0.00007,0.00011,-0.00007,0.00006,0.00015,-0.00009,0.00006,0.00002,0.00009,-0.00006,0.00008,0.00013,-0.00006,0.0001,-0.00008,0.00007,0.00005,-0.00008,0.0001,0.00007,-0.00005]},
{"s":"am\u209b = 0.045 (RHMC)","t":[500,504,508,512,516,520,524,528,532,536,540,544,548,552,556,560,564,568,572,576,580,584,588,592,596,600,604,608,612,616,620,624,628,632,636,640,644,648,652,656,660,664,668,672,676,680,684,688,692,696,700,704,708,712,716,720,724,728,732,736,740,744,748,752,756,760,764,768,772,776,780,784,788,792,796,800,804,808,812,816,820,824,828,832,836,840,844,848,852,856,860,864,868,872,876,880,884,888,892,896,900,904],
"v":[0.00014,0.0002,-0.0005,0.00038,-0.0001,0.00022,0.00043,-0.00016,0.0003,0.00041,-0.00022,0.00018,0.0001,0.00033,-0.00021,0.00016,-0.00012,0.00026,0.00008,-0.0001,0.00021,-0.00026,0.00012,-0.00039,0.00004,-0.00026,0.00028,-0.00042,0.00016,-0.00016,0.00031,-0.00009,0.00011,-0.00024,0.00022,-0.00033,0.00005,-0.00019,0.00046,-0.00012,0.00018,-0.00029,0.0003,-0.00002,-0.00022,0.00024,-0.00046,-0.00049,0.00008,-0.00026,0.00065,0.00011,-0.00014,0.00056,0.00001,-0.00032,0.0002,-0.0001,0.00014,-0.00026,0.00028,0.00004,-0.00019,0.00018,-0.00028,0.00034,0.00006,-0.00016,0.00023,-0.00024,0.00009,-0.00038,0.00052,0.00012,-0.00012,0.00026,-0.0003,0.00001,0.00016,-0.00038,0.00008,0.00066,-0.0002,0.00021,-0.00008,0.00006,-0.00026,0.00014,-0.00038,0.00002,0.0002,-0.00016,0.00011,-0.00031,0.00038,0.00005,-0.00022,0.00017,-0.00009,-0.00034,0.00008,-0.00028]},
{"s":"am\u209b = 0.045 (RHMC)","t":[502,506,510,514,518,522,526,530,534,538,542,546,550,554,558,562,566,570,574,578,582,586,590,594,598,602,606,610,614,618,622,626,630,634,638,642,646,650,654,658,662,666,670,674,678,682,686,690,694,698,702,706,710,714,718,722,726,730,734,738,742,746,750,754,758,762,766,770,774,778,782,786,790,794,798,802,806,810,814,818,822,826,830,834,838,842,846,850,854,858,862,866,870,874,878,882,886,890,894,898,902,906],
"v":[0.00015,-0.00013,0.00022,0.00002,-0.00023,0.00009,0.00027,-0.00011,0.00012,0.00019,-0.00008,0.00007,-0.00018,0.00025,-0.00001,-0.00015,0.00017,-0.00006,0.00005,-0.00021,0.00011,-0.00011,0.00021,-0.00005,0.00007,-0.00019,0.00003,-0.00025,0.00015,-0.00003,0.00009,-0.00013,0.00023,0.00001,-0.00017,0.00017,-0.00009,0.00006,-0.00023,0.00012,0,-0.00015,0.00019,-0.00007,0.00013,-0.00021,0.00005,-0.00005,0.00025,-0.00013,0.00003,0.00017,-0.00011,0.00011,-0.00017,0.00021,-0.00001,-0.00013,0.00014,-0.00007,0.00007,-0.00019,0.00019,0.00002,-0.00011,0.00015,-0.00015,0.00023,-0.00003,-0.00009,0.00012,-0.00023,0.00006,0.00021,-0.00006,0.00009,-0.00018,0.00017,0.00001,-0.00013,0.00015,-0.00009,0.00007,-0.00021,0.00022,0,-0.00015,0.00013,-0.00008,0.00005,-0.00018,0.00017,0.00003,-0.00011,0.00011,-0.00023,0.00007,-0.00001,-0.00015,0.00015,-0.00007,0.00007]}
]},
"transform":[{"flatten":["t","v"]}],
"layer":[
{"mark":{"type":"point","filled":true,"size":52,"stroke":"#000000","strokeWidth":0.6,"opacity":1},
 "encoding":{
  "x":{"field":"t","type":"quantitative","scale":{"domain":[496,1401],"nice":false,"zero":false},"axis":{"orient":"bottom","values":[500,750,1000,1250],"format":"d","ticks":false,"labelPadding":4,"title":"MD time","titleFont":"Liberation Serif","titleFontSize":32,"titleX":226,"titleY":49.3,"titleAlign":"center","titleBaseline":"alphabetic","titleAngle":0}},
  "y":{"field":"v","type":"quantitative","scale":{"domain":[-0.0008,0.0014],"nice":false,"zero":false},"axis":{"orient":"left","values":[-0.0008,-0.00036,0.00008,0.00052,0.00096,0.0014],"format":".5f","ticks":false,"labelPadding":7,"minExtent":140,"maxExtent":140,"title":"\u27e8\u03c8\u0304\u03b3\u2085\u03c8\u27e9","titleFont":"Liberation Serif","titleFontSize":32,"titleFontStyle":"italic","titleX":-109,"titleY":178,"titleAngle":270,"titleAlign":"center","titleBaseline":"middle"}},
  "color":{"field":"s","type":"nominal","scale":{"domain":["am\u2097 = 0.01 (EOFA)","am\u2097 = 0.01 (RHMC)","am\u209b = 0.045 (EOFA)","am\u209b = 0.045 (RHMC)"],"range":["#ff0000","#0000ff","#008000","#800080"]},"legend":{"title":null,"legendX":210.6,"legendY":8,"labelFont":"Liberation Serif","labelFontSize":18.5,"symbolSize":26,"symbolOffset":7,"labelOffset":23,"rowPadding":9}},
  "shape":{"field":"s","type":"nominal","scale":{"domain":["am\u2097 = 0.01 (EOFA)","am\u2097 = 0.01 (RHMC)","am\u209b = 0.045 (EOFA)","am\u209b = 0.045 (RHMC)"],"range":["circle","square","diamond","triangle-up"]}}
 }},
{"transform":[{"filter":"datum.t == 500"}],"mark":{"type":"point","opacity":0},
 "encoding":{
  "x":{"field":"t","type":"quantitative","scale":{"domain":[496,1401],"nice":false,"zero":false},"axis":{"orient":"top","values":[500,750,1000,1250],"labels":false,"tickSize":-5,"title":null,"minExtent":10,"maxExtent":10}},
  "y":{"field":"v","type":"quantitative","scale":{"domain":[-0.0008,0.0014],"nice":false,"zero":false},"axis":{"orient":"right","values":[-0.0008,-0.00036,0.00008,0.00052,0.00096,0.0014],"labels":false,"tickSize":-5,"minExtent":0,"maxExtent":0,"title":"(d)","titleFont":"Liberation Sans","titleFontSize":22,"titleAngle":0,"titleX":-448,"titleY":458,"titleAlign":"center","titleBaseline":"alphabetic"}}
 }},
{"transform":[{"filter":"datum.t == 500"}],"mark":{"type":"point","opacity":0},
 "encoding":{
  "x":{"field":"t","type":"quantitative","scale":{"domain":[496,1401],"nice":false,"zero":false},"axis":{"orient":"bottom","values":[500,750,1000,1250],"labels":false,"tickSize":-5,"minExtent":112,"maxExtent":112,"title":"Pseudoscalar Condensates","titleFont":"Liberation Serif","titleFontSize":28,"titleAngle":0,"titleX":184,"titleY":102.3,"titleAlign":"center","titleBaseline":"alphabetic"}},
  "y":{"field":"v","type":"quantitative","scale":{"domain":[-0.0008,0.0014],"nice":false,"zero":false},"axis":{"orient":"left","values":[-0.0008,-0.00036,0.00008,0.00052,0.00096,0.0014],"labels":false,"tickSize":-5,"title":null,"minExtent":0,"maxExtent":0}}
 }}
],
"resolve":{"axis":{"x":"independent","y":"independent"}}
}
],"spacing":24.3,"align":"each","center":true,
"resolve":{"scale":{"color":"independent","shape":"independent"},"legend":{"color":"independent","shape":"independent"}}}
]
}
